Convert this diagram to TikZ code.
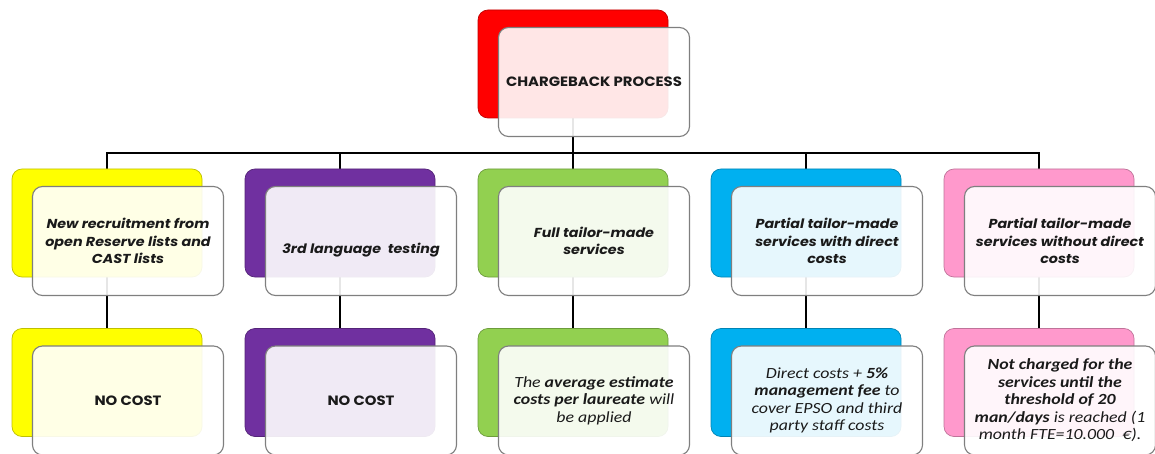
\documentclass[tikz,border=0pt]{standalone}
\usepackage{fontspec}
\setmainfont{Carlito}[FakeStretch=1.15]
\newfontfamily\hdr{Poppins}[FakeStretch=1.1]
\usetikzlibrary{backgrounds}
\definecolor{cred}{HTML}{FF0000}
\definecolor{cyellow}{HTML}{FFFF00}
\definecolor{cpurple}{HTML}{7030A0}
\definecolor{cgreen}{HTML}{92D050}
\definecolor{cblue}{HTML}{00B0F0}
\definecolor{cpink}{HTML}{FF99CC}
\definecolor{fborder}{HTML}{7F7F7F}
\definecolor{txt}{HTML}{1A1A1A}
\tikzset{
  back/.style={draw=#1!75!black, fill=#1, rounded corners=10pt,
    minimum width=190pt, minimum height=108pt, line width=0.7pt, inner sep=0pt},
  front/.style={draw=fborder, fill=white, fill opacity=0.9, text opacity=1,
    rounded corners=10pt, minimum width=191pt, minimum height=109pt,
    line width=1.1pt, align=center, inner sep=0pt, text=txt},
  htext/.style={font=\hdr\bfseries\itshape\fontsize{13}{17.5}\selectfont},
  ctext/.style={font=\hdr\bfseries\fontsize{13.5}{17.5}\selectfont},
  btext/.style={font=\itshape\fontsize{15.5}{17.5}\selectfont},
  conn/.style={draw=black, line width=1.7pt}
}
\begin{document}
\begin{tikzpicture}[x=1pt,y=1pt]
\useasboundingbox (0,0) rectangle (1155,-454);
% top
\node[back=cred] (c0) at (573,-64) {};
\node[front,ctext] (f0) at (594,-82) {CHARGEBACK PROCESS};
% row 1 back
\node[back=cyellow] (c1) at (107,-223) {};
\node[back=cpurple] (c2) at (340,-223) {};
\node[back=cgreen]  (c3) at (573,-223) {};
\node[back=cblue]   (c4) at (806,-223) {};
\node[back=cpink]   (c5) at (1039,-223) {};
% row 2 back
\node[back=cyellow] (d1) at (107,-382.5) {};
\node[back=cpurple] (d2) at (340,-382.5) {};
\node[back=cgreen]  (d3) at (573,-382.5) {};
\node[back=cblue]   (d4) at (806,-382.5) {};
\node[back=cpink]   (d5) at (1039,-382.5) {};
% connectors
\begin{scope}[on background layer]
\coordinate (bus) at (573,-153);
\draw[conn] (c0.center) -- (c0.center |- bus);
\foreach \i in {1,...,5}{
  \draw[conn] (c0.center |- bus) -| (c\i.center);
  \draw[conn] (c\i.center) -- (d\i.center);
}
\end{scope}
% row 1 front
\node[front,htext] (f1) at (128,-241) {New recruitment from\\open Reserve lists and\\CAST lists};
\node[front,htext] (f2) at (361,-241) {\strut\\\strut 3rd language~ testing};
\node[front,htext] (f3) at (594,-241) {Full tailor-made\\services};
\node[front,htext] (f4) at (827,-241) {Partial tailor-made\\services with direct\\costs};
\node[front,htext] (f5) at (1060,-241) {Partial tailor-made\\services without direct\\costs};
% row 2 front
\node[front,ctext] (g1) at (128,-400.5) {NO COST};
\node[front,ctext] (g2) at (361,-400.5) {NO COST};
\node[front,btext] (g3) at (594,-400.5) {The \textbf{average estimate}\\\textbf{costs per laureate} will\\be applied};
\node[front,btext] (g4) at (827,-400.5) {Direct costs + \textbf{5\%}\\\textbf{management fee} to\\cover EPSO and third\\party staff costs};
\node[front,btext] (g5) at (1060,-400.5) {\textbf{Not charged for the}\\\textbf{services until the}\\\textbf{threshold of 20}\\\textbf{man/days} is reached (1\\month FTE=10.000~~€).};
\end{tikzpicture}
\end{document}
